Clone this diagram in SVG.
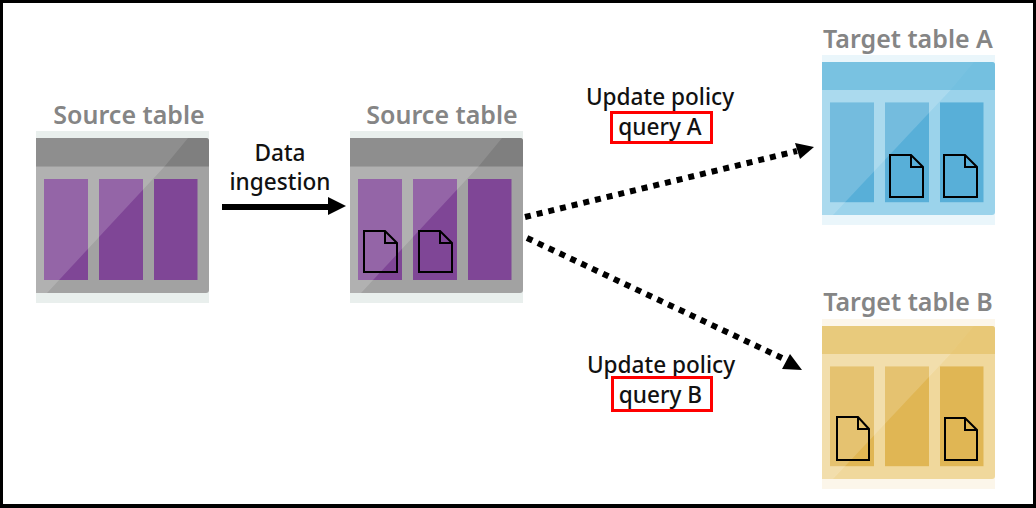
<svg xmlns="http://www.w3.org/2000/svg" width="1036" height="508" viewBox="0 0 1036 508">
<style>
.title{font-family:"Noto Sans","Open Sans","Liberation Sans",sans-serif;font-size:25px;font-weight:600;fill:#858585;text-anchor:middle}
.lab{font-family:"Noto Sans","Open Sans","Liberation Sans",sans-serif;font-size:22.600px;font-weight:500;fill:#111;text-anchor:middle}
.doc{fill:none;stroke:#000;stroke-width:2}
.red{fill:none;stroke:#f00;stroke-width:3}
.dot{fill:none;stroke:#000;stroke-width:6;stroke-dasharray:6 6}
.pad{fill:var(--pad)}.body{fill:var(--body)}.head{fill:var(--head)}.col{fill:var(--col)}
.shine{fill:#fff;opacity:.17}
.hshine{fill:#fff;opacity:var(--hs)}
.gray{--pad:#e9efed;--body:#a2a2a2;--head:#7f7f7f;--col:#7f4696;--hs:.12}
.blue{--pad:#eaf6fb;--body:#9bd3eb;--head:#74c0e0;--col:#58afd8;--hs:.04}
.gold{--pad:#fcf6ea;--body:#f0d89c;--head:#e8c877;--col:#e0b654;--hs:.04}
</style>
<defs>
<g id="tbl">
<rect class="pad" x="0" y="0" width="173" height="172"/>
<path class="body" d="M0 7H170Q173 7 173 10V159Q173 162 170 162H0Z"/>
<path class="head" d="M0 7H170Q173 7 173 10V35.500H0Z"/>
<g class="col"><rect x="8" y="48" width="44" height="101"/><rect x="63" y="48" width="44" height="101"/><rect x="118" y="48" width="43.500" height="101"/></g>
<path class="hshine" d="M0 7H152L128.500 35.500H0Z"/>
<path class="shine" d="M0 35.500H128.500L11 162H0Z"/>
</g>
</defs>
<rect width="1036" height="508" fill="#fff"/>
<g id="source-1" class="gray"><use href="#tbl" x="36" y="131"/><text class="title" x="129" y="124">Source table</text></g>
<g id="source-2" class="gray"><use href="#tbl" x="350" y="131"/><text class="title" x="442" y="124">Source table</text>
<path class="doc" d="M364 231H385L397 243V272H364ZM385 231V243H397"/><path class="doc" d="M419 231H440L452 243V272H419ZM440 231V243H452"/></g>
<g id="target-a" class="blue"><use href="#tbl" transform="translate(822 55) scale(1 .988)"/><text class="title" x="908" y="48">Target table A</text>
<path class="doc" d="M890 155H911L923 167V197H890ZM911 155V167H923"/><path class="doc" d="M944 155H965L977 167V197H944ZM965 155V167H977"/></g>
<g id="target-b" class="gold"><use href="#tbl" transform="translate(822 319) scale(1 .988)"/><text class="title" x="908" y="311">Target table B</text>
<path class="doc" d="M837 417H858L869 429V460H837ZM858 417V429H869"/><path class="doc" d="M945 418H965L977 430V460H945ZM965 418V430H977"/></g>
<g id="connectors">
<path d="M222 207H330" fill="none" stroke="#000" stroke-width="6"/><path d="M328 197L346 206L328 215Z"/>
<path class="dot" d="M525 217L797 151"/><path d="M795 143L814 147L800 159Z"/>
<path class="dot" d="M527 238L782 358"/><path d="M790 354L802 370L782 369Z"/>
</g>
<g id="label-ingestion"><text class="lab" x="280" y="161">Data</text><text class="lab" x="280" y="190">ingestion</text></g>
<g id="label-a"><text class="lab" x="660" y="105">Update policy</text><rect class="red" x="611.500" y="112.500" width="100" height="30"/><text class="lab" x="660" y="135">query A</text></g>
<g id="label-b"><text class="lab" x="661" y="373">Update policy</text><rect class="red" x="612.500" y="377.500" width="99" height="33"/><text class="lab" x="660.500" y="403">query B</text></g>
<path d="M0 0H1036V508H0ZM3 3V504H1033V3Z" fill="#000" fill-rule="evenodd"/>
</svg>
